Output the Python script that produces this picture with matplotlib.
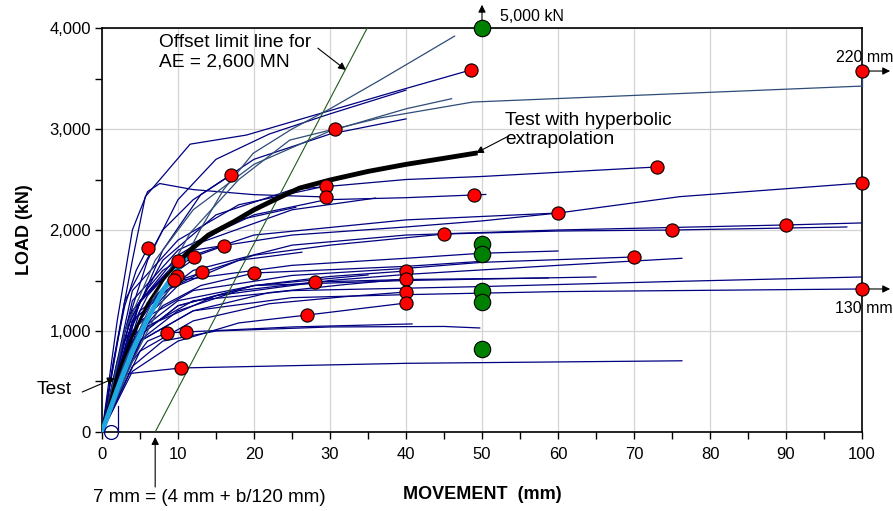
import matplotlib
matplotlib.use("Agg")
import matplotlib.pyplot as plt
from matplotlib.ticker import MultipleLocator, FuncFormatter

plt.rcParams['font.family'] = ['Liberation Sans', 'DejaVu Sans']

# Curvas carga-movimiento (mm, kN)
c01 = [(0, 0), (4, 700), (8, 1300), (12.9, 2000), (16, 2400), (19.9, 2760), (25, 3000), (30, 3200), (36.6, 3485), (46.4, 3920)]
c02 = [(0, 0), (2, 900), (4, 1700), (5.7, 2330), (11.6, 2850), (19, 2940), (29, 3160), (37.9, 3356), (48.5, 3584)]
c03 = [(0, 0), (3, 1000), (6, 1700), (10, 2300), (15, 2700), (22, 2950), (30, 3150), (40, 3385)]
c04 = [(0, 0), (4, 1100), (8, 1800), (13, 2350), (20, 2700), (30, 2950), (40, 3100)]
c05 = [(0, 0), (3, 700), (7, 1350), (11.6, 1970), (18, 2500), (24.7, 2890), (30.6, 3000), (36.6, 3110), (48.8, 3267), (100, 3425)]
c06 = [(0, 0), (2, 1100), (4, 2000), (6, 2380), (7.6, 2460), (12, 2400), (20, 2350), (29.5, 2327)]
c07 = [(0, 0), (3, 1000), (8, 1700), (15, 2150), (25, 2400), (40, 2500), (50, 2530), (73, 2624)]
c08 = [(0, 0), (5, 1300), (12, 1800), (25, 1950), (40, 2030), (50, 2090), (60, 2168), (76, 2330), (100, 2465)]
c09 = [(0, 0), (4, 1200), (10, 1700), (20, 1950), (40, 2100), (60, 2168)]
c10 = [(0, 0), (4, 1300), (10, 1800), (20, 2150), (29.5, 2300), (40, 2320), (49, 2347), (50.5, 2352)]
c11 = [(0, 0), (4, 1400), (10, 1900), (18, 2250), (29.5, 2436)]
c12 = [(0, 0), (3, 1300), (8, 2000), (12, 2300), (17, 2545)]
c13 = [(0, 0), (1.5, 700), (3, 1250), (4.5, 1600), (6, 1820)]
c14 = [(0, 0), (4, 1100), (10, 1500), (20, 1750), (30, 1850), (45, 1960), (60, 1990), (75, 2000), (98, 2030)]
c15 = [(0, 0), (5, 1200), (12, 1600), (25, 1850), (40, 1950), (60, 2000), (90, 2050), (100, 2070)]
c16 = [(0, 0), (5, 1100), (12, 1400), (25, 1550), (40, 1620), (50, 1680), (70, 1733)]
c17 = [(0, 0), (6, 1050), (15, 1350), (30, 1500), (40, 1560), (60, 1650), (76.3, 1720)]
c18 = [(0, 0), (5, 900), (12, 1200), (25, 1330), (40, 1360), (60, 1390), (100, 1416)]
c19 = [(0, 0), (5, 1000), (12, 1300), (25, 1400), (50, 1440), (75, 1490), (100, 1535)]
c20 = [(0, 0), (4, 1100), (10, 1500), (25, 1650), (40, 1720), (50, 1770), (60, 1792)]
c21 = [(0, 0), (4, 950), (10, 1300), (20, 1450), (40, 1500), (65, 1535)]
c22 = [(0, 0), (4, 850), (10, 1200), (18, 1400), (28, 1485), (40, 1510), (58.7, 1525)]
c23 = [(0, 0), (3, 600), (6, 900), (8.5, 980), (11, 990), (25, 1040), (40.8, 1070)]
c24 = [(0, 0), (4, 650), (8, 900), (15, 1000), (30, 1040), (45, 1045), (49.7, 1030)]
c25 = [(0, 0), (1.5, 450), (2.5, 570), (10.4, 634), (40, 680), (76.3, 705)]
c26 = [(0, 0), (2, 700), (4, 1150), (6, 1420), (8, 1600), (10, 1693)]
c27 = [(0, 0), (3, 900), (6, 1350), (9, 1600), (12.1, 1733)]
c28 = [(0, 0), (3, 800), (6, 1250), (10, 1600), (13, 1760), (16, 1842)]
c29 = [(0, 0), (3, 750), (6, 1150), (9, 1420), (13.2, 1584)]
c30 = [(0, 0), (2, 600), (5, 1100), (7.5, 1380), (9.9, 1545)]
c31 = [(0, 0), (3, 800), (6, 1250), (9.5, 1505)]
c32 = [(0, 0), (4, 900), (8, 1250), (13, 1450), (20, 1574), (40, 1640), (50, 1690)]
c33 = [(0, 0), (4, 900), (10, 1250), (20, 1450), (30, 1540), (40, 1594)]
c34 = [(0, 0), (5, 900), (12, 1200), (22, 1380), (32, 1460), (40, 1515)]
c35 = [(0, 0), (5, 800), (12, 1100), (22, 1270), (32, 1340), (40, 1386)]
c36 = [(0, 0), (4, 600), (10, 900), (18, 1080), (27, 1158), (40, 1277)]
c37 = [(0, 0), (4, 1200), (10, 1750), (18, 2100), (25.5, 2225)]
c38 = [(0, 0), (5, 1300), (12, 1850), (25, 2200), (36, 2316)]
c39 = [(0, 0), (4, 1000), (10, 1450), (18, 1700), (26.3, 1780)]
c40 = [(0, 0), (4, 900), (10, 1250), (20, 1450), (35, 1555)]
c41 = [(0, 0), (3, 1000), (7, 1700), (12, 2200), (20, 2650), (30, 2980), (40, 3200), (46, 3300)]
enlace_220 = [(100, 3425), (100, 3574)]

curvas_navy = [c02, c03, c04, c06, c07, c08, c09, c10, c11, c12, c13, c14, c15, c16, c17,
               c18, c19, c20, c21, c22, c23, c24, c25, c26, c27, c28, c29, c30, c31, c32,
               c33, c34, c35, c36, c37, c38, c39, c40]
curvas_slate = [c01, c05, c41, enlace_220]

# Ensayo con extrapolacion hiperbolica y ensayo medido
hiper_x = [0, 1, 2, 4, 6, 8, 10, 11.6, 14, 17.3, 20, 23, 26, 30, 35, 40, 45, 49.1]
hiper_y = [0, 280, 560, 950, 1270, 1500, 1680, 1800, 1950, 2080, 2200, 2310, 2415, 2495, 2580, 2650, 2710, 2760]
test_x = [0, 2, 4, 6, 8, 10, 11.5]
test_y = [0, 420, 800, 1120, 1400, 1620, 1770]

# Puntos limite
rojo_x = [6, 10, 12.1, 16, 13.2, 9.9, 9.5, 20, 28, 27, 8.5, 11, 10.4, 17, 30.6, 29.5, 29.5,
          48.5, 100, 73, 49, 100, 60, 45, 75, 90, 70, 40, 40, 40, 40, 100]
rojo_y = [1820, 1693, 1733, 1842, 1584, 1545, 1505, 1574, 1485, 1158, 980, 990, 634, 2545, 3000, 2436, 2327,
          3584, 3574, 2624, 2347, 2465, 2168, 1960, 2000, 2050, 1733, 1594, 1515, 1386, 1277, 1416]
verde_x = [50, 50, 50, 50, 50, 50]
verde_y = [4000, 1861, 1762, 1396, 1287, 822]

# Linea limite de desplazamiento (offset)
offset_x = [7, 34.9]
offset_y = [0, 4000]

fig = plt.figure(figsize=(8.93, 5.11), dpi=100)
ax = fig.add_axes([0.1142, 0.1546, 0.8511, 0.7906])

for c in curvas_navy:
    ax.plot([p[0] for p in c], [p[1] for p in c], color='#000080', lw=0.9, zorder=3)
for c in curvas_slate:
    ax.plot([p[0] for p in c], [p[1] for p in c], color='#2E4C78', lw=0.9, zorder=3, clip_on=False)

ax.plot(offset_x, offset_y, color='#1E5A1E', lw=0.8, zorder=4)
ax.plot(test_x, test_y, color='#1FA8E0', lw=3.5, zorder=5, solid_capstyle='butt')
ax.plot(hiper_x[6:], hiper_y[6:], color='black', lw=3.5, zorder=5)
ax.plot(hiper_x[:7], hiper_y[:7], color='black', lw=2, zorder=4)

# pequeno circulo y linea en el origen
ax.plot([1.2], [0], 'o', ms=10, mfc='none', mec='#000080', mew=0.9, clip_on=False, zorder=6)
ax.plot([2.1, 2.1], [0, 260], color='#000080', lw=0.9, zorder=3)

ax.scatter(rojo_x, rojo_y, s=90, c='red', edgecolors='black', linewidths=0.8, zorder=7, clip_on=False)
ax.scatter(verde_x, verde_y, s=140, c='#008000', edgecolors='black', linewidths=0.8, zorder=7, clip_on=False)

ax.set_xlim(0, 100)
ax.set_ylim(0, 4000)
ax.xaxis.set_major_locator(MultipleLocator(10))
ax.xaxis.set_minor_locator(MultipleLocator(5))
ax.yaxis.set_major_locator(MultipleLocator(1000))
ax.yaxis.set_minor_locator(MultipleLocator(500))
ax.yaxis.set_major_formatter(FuncFormatter(lambda v, p: f"{int(v):,}"))
ax.grid(True, which='major', color='#d4d4d4', lw=0.9, zorder=0)
ax.set_axisbelow(True)
ax.tick_params(which='both', direction='out', length=5, width=1, labelsize=12)
ax.tick_params(axis='x', pad=6)
ax.tick_params(axis='y', pad=3)
for s in ax.spines.values():
    s.set_linewidth(1.2)

ax.set_xlabel("MOVEMENT  (mm)", fontsize=13, fontweight='bold', labelpad=17)
ax.set_ylabel("LOAD (kN)", fontsize=13, fontweight='bold', labelpad=12)

flecha = dict(arrowstyle='-|>', color='black', lw=0.8, mutation_scale=11, shrinkA=0, shrinkB=0)
ax.text(7.5, 3940, "Offset limit line for\nAE = 2,600 MN", fontsize=13.8, ha='left', va='top', linespacing=1.2)
ax.annotate("", xy=(32.1, 3584), xytext=(28.4, 3800), arrowprops=flecha)
ax.text(53, 3170, "Test with hyperbolic\nextrapolation", fontsize=13.8, ha='left', va='top', linespacing=1.2)
ax.annotate("", xy=(49.2, 2762), xytext=(53.5, 2930), arrowprops=flecha)
ax.text(52.4, 4110, "5,000 kN", fontsize=11.5, ha='left', va='center')
ax.annotate("", xy=(50, 4230), xytext=(50, 4060), arrowprops=flecha, annotation_clip=False)
ax.text(100.3, 3712, "220 mm", fontsize=11.5, ha='center', va='center')
ax.annotate("", xy=(103.7, 3574), xytext=(100, 3574), arrowprops=flecha, annotation_clip=False)
ax.text(100.3, 1218, "130 mm", fontsize=11.5, ha='center', va='center')
ax.annotate("", xy=(103.7, 1416), xytext=(100, 1416), arrowprops=flecha, annotation_clip=False)
ax.text(-8.6, 420, "Test", fontsize=13.8, ha='left', va='center')
ax.annotate("", xy=(1.7, 535), xytext=(-2.6, 396), arrowprops=flecha, annotation_clip=False)
ax.text(-1.2, -650, "7 mm = (4 mm + b/120 mm)", fontsize=13.5, ha='left', va='center')
ax.annotate("", xy=(7, -50), xytext=(7, -545), arrowprops=flecha, annotation_clip=False)

fig.savefig("out.png", dpi=100)
